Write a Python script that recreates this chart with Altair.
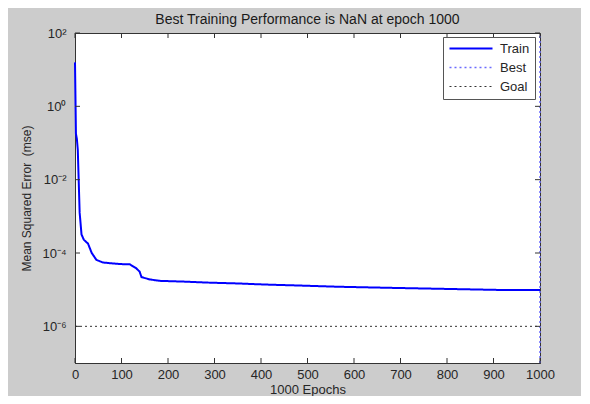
import altair as alt
import pandas as pd

# ---- data ----
epochs = [0, 2, 4, 6, 10, 14, 19, 28, 36, 46, 60, 96, 118, 132, 139, 143, 161, 182,
          233, 291, 348, 409, 488, 568, 681, 796, 919, 1000]
train_mse = [15.8, 0.18, 0.13, 0.065, 1.26e-3, 3.2e-4, 2.3e-4, 1.8e-4, 1.0e-4, 6.5e-5,
             5.5e-5, 5.0e-5, 4.9e-5, 3.8e-5, 3.1e-5, 2.2e-5, 1.9e-5, 1.74e-5, 1.66e-5,
             1.55e-5, 1.48e-5, 1.38e-5, 1.29e-5, 1.20e-5, 1.12e-5, 1.05e-5, 9.8e-6, 9.8e-6]
best_epoch = 1000
goal_mse = 1e-6
x_domain = [0, 1000]
y_domain = [1e-7, 100]
x_ticks = [0, 100, 200, 300, 400, 500, 600, 700, 800, 900, 1000]
y_ticks = [1e-6, 1e-4, 1e-2, 1, 100]
series_names = ["Train", "Best", "Goal"]
series_colors = ["#0000ff", "#6b6bff", "#333333"]
series_dash = [[1, 0], [2, 3], [2, 3]]
series_width = [2, 1, 1]

W, H = 465, 330
FONT = "Liberation Sans"

train = pd.DataFrame({"epoch": epochs, "mse": train_mse, "series": "Train",
                      "ord": list(range(len(epochs)))})
best = pd.DataFrame({"epoch": [best_epoch, best_epoch], "mse": y_domain,
                     "series": "Best", "ord": [0, 1]})
goal = pd.DataFrame({"epoch": x_domain, "mse": [goal_mse, goal_mse],
                     "series": "Goal", "ord": [0, 1]})
lines = pd.concat([goal, best, train], ignore_index=True)

xscale = alt.Scale(domain=x_domain, nice=False, zero=False)
yscale = alt.Scale(type="log", domain=y_domain, nice=False)

label_expr = ("round(log(datum.value)/LN10) == 2 ? '10\u00b2' : "
              "round(log(datum.value)/LN10) == 0 ? '10\u2070' : "
              "round(log(datum.value)/LN10) == -2 ? '10\u207b\u00b2' : "
              "round(log(datum.value)/LN10) == -4 ? '10\u207b\u2074' : '10\u207b\u2076'")

x_axis = alt.Axis(values=x_ticks, format="d", title="1000 Epochs", ticks=False, tickSize=0,
                  grid=False, labelPadding=5, titlePadding=2, labelFlush=False,
                  labelFontSize=13, titleFontSize=13)
y_axis = alt.Axis(values=y_ticks, labelExpr=label_expr,
                  title="Mean Squared Error \u00a0(mse)", ticks=False, tickSize=0,
                  grid=False, labelPadding=9, titlePadding=8, labelFlush=False,
                  labelFontSize=13, titleFontSize=12)

line_layer = alt.Chart(lines).mark_line(clip=False).encode(
    x=alt.X("epoch:Q", scale=xscale, axis=x_axis),
    y=alt.Y("mse:Q", scale=yscale, axis=y_axis),
    color=alt.Color("series:N", title=None,
                    scale=alt.Scale(domain=series_names, range=series_colors)),
    strokeDash=alt.StrokeDash("series:N", title=None,
                              scale=alt.Scale(domain=series_names, range=series_dash)),
    strokeWidth=alt.StrokeWidth("series:N", title=None,
                                scale=alt.Scale(domain=series_names, range=series_width)),
    detail="series:N",
    order="ord:Q",
)

xt = pd.DataFrame({"t": x_ticks})
yt = pd.DataFrame({"t": y_ticks})
tick_color = "#333333"
x_bottom = alt.Chart(xt).mark_rule(color=tick_color).encode(
    x=alt.X("t:Q", scale=xscale, axis=x_axis), y=alt.value(H), y2=alt.value(H - 5))
x_top = alt.Chart(xt).mark_rule(color=tick_color).encode(
    x=alt.X("t:Q", scale=xscale, axis=x_axis), y=alt.value(0), y2=alt.value(5))
y_left = alt.Chart(yt).mark_rule(color=tick_color).encode(
    y=alt.Y("t:Q", scale=yscale, axis=y_axis), x=alt.value(0), x2=alt.value(5))
y_right = alt.Chart(yt).mark_rule(color=tick_color).encode(
    y=alt.Y("t:Q", scale=yscale, axis=y_axis), x=alt.value(W), x2=alt.value(W - 5))

chart = alt.layer(line_layer, x_bottom, x_top, y_left, y_right).properties(
    width=W, height=H,
    title=alt.TitleParams("Best Training Performance is NaN at epoch 1000",
                          fontSize=14, fontWeight="normal", font=FONT,
                          color="#1a1a1a", offset=8, frame="group", dy=8),
    autosize=alt.AutoSizeParams(type="none"),
    padding={"left": 67, "top": 25, "right": 41, "bottom": 33},
    background="#cccccc",
).configure_view(
    stroke="#333333", strokeWidth=1, fill="white"
).configure_axis(
    labelFont=FONT, titleFont=FONT, labelColor="#262626", titleColor="#262626",
    titleFontWeight="normal", domainColor="#333333", domainWidth=1,
).configure_legend(
    orient="none", legendX=368, legendY=4, fillColor="white", strokeColor="#555555",
    padding=5, symbolType="stroke", symbolSize=1850, labelFont=FONT, labelFontSize=13,
    labelColor="#262626", rowPadding=5, labelOffset=6, clipHeight=13,
)

chart.save("out.html", embed_options={"renderer": "svg", "actions": False})
